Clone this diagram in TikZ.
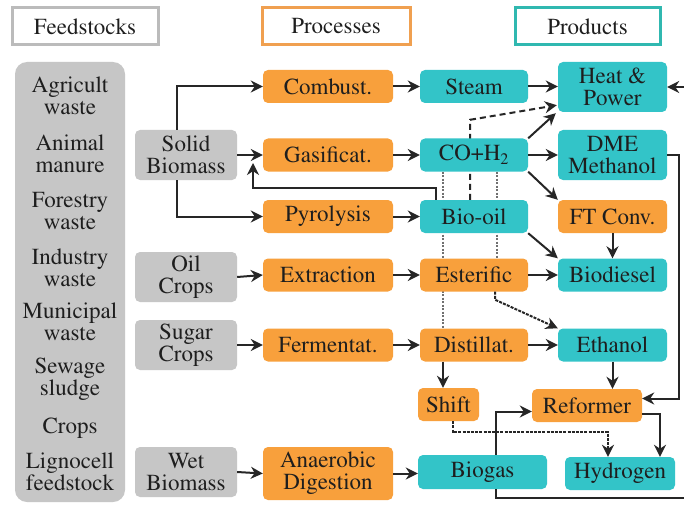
\documentclass[tikz,border=0pt]{standalone}
\usepackage[T1]{fontenc}
\renewcommand{\rmdefault}{ptm}
\usetikzlibrary{arrows.meta,backgrounds,calc}
\definecolor{orfill}{HTML}{F8A03C}
\definecolor{cyfill}{HTML}{33C4C8}
\definecolor{grfill}{HTML}{C6C6C6}
\definecolor{txt}{HTML}{1E1E1E}
\definecolor{linec}{HTML}{262626}
\definecolor{dotc}{HTML}{707070}
\definecolor{hgray}{HTML}{BBBBBB}
\definecolor{horange}{HTML}{F0A050}
\definecolor{hteal}{HTML}{30B8B0}
\begin{document}
\begin{tikzpicture}[x=1pt,y=-1pt,
  box/.style={rounded corners=5pt, inner sep=0pt, align=center, text=txt, font=\fontsize{23}{22}\selectfont},
  gbox/.style={box, fill=grfill},
  obox/.style={box, fill=orfill},
  cbox/.style={box, fill=cyfill},
  hdr/.style={draw, line width=3pt, fill=white, inner sep=0pt, font=\fontsize{23}{24}\selectfont, text=txt, minimum height=37pt},
  ltxt/.style={align=center, inner sep=0pt, text=txt, font=\fontsize{23}{22}\selectfont},
  arr/.style={draw=linec, line width=2pt, -{Stealth[length=12pt,width=12pt]}},
  dashl/.style={arr, dash pattern=on 6pt off 4pt},
  fined/.style={arr, dash pattern=on 3pt off 1.2pt},
  dotl/.style={draw=dotc, line width=1.8pt, dash pattern=on 2pt off 1.5pt}
]
\useasboundingbox (0,0) rectangle (684,505);
\begin{pgfonlayer}{background}
\fill[white] (0,0) rectangle (684,505);
\end{pgfonlayer}

% headers
\node[hdr, draw=hgray, minimum width=146pt] (hF) at (85,26.5) {Feedstocks};
\node[hdr, draw=horange, minimum width=148pt] (hP) at (336,26.5) {Processes};
\node[hdr, draw=hteal, minimum width=145pt] (hPr) at (587.5,26.5) {Products};

% left feedstock column
\node[gbox, rounded corners=12pt, minimum width=110pt, minimum height=440pt] (lb) at (70,282) {};
\node[ltxt] (f1) at (70,96) {Agricult\\waste};
\node[ltxt] (f2) at (70,154) {Animal\\manure};
\node[ltxt] (f3) at (70,211) {Forestry\\waste};
\node[ltxt] (f4) at (70,268) {Industry\\waste};
\node[ltxt] (f5) at (70,322) {Municipal\\waste};
\node[ltxt] (f6) at (70,379) {Sewage\\sludge};
\node[ltxt] (f7) at (70,428) {Crops};
\node[ltxt] (f8) at (70,472) {Lignocell\\feedstock};

% second column
\node[gbox, minimum width=102pt, minimum height=50pt] (sb) at (186,155) {Solid\\Biomass};
\node[gbox, minimum width=102pt, minimum height=50pt] (oc) at (186,277) {Oil\\Crops};
\node[gbox, minimum width=102pt, minimum height=50pt] (sc) at (186,345) {Sugar\\Crops};
\node[gbox, minimum width=102pt, minimum height=50pt] (wb) at (186,472) {Wet\\Biomass};

% processes
\node[obox, minimum width=130pt, minimum height=33pt] (comb) at (328,86.5) {Combust.};
\node[obox, minimum width=130pt, minimum height=33pt] (gas) at (328,155) {Gasificat.};
\node[obox, minimum width=130pt, minimum height=33pt] (pyr) at (328,216.5) {Pyrolysis};
\node[obox, minimum width=130pt, minimum height=33pt] (ext) at (328,275) {Extraction};
\node[obox, minimum width=130pt, minimum height=33pt] (fer) at (328,345) {Fermentat.};
\node[obox, minimum width=130pt, minimum height=53pt] (ana) at (328,473.5) {Anaerobic\\Digestion};

% third column
\node[cbox, minimum width=108pt, minimum height=33pt] (steam) at (474,86.5) {Steam};
\node[cbox, minimum width=108pt, minimum height=33pt] (co) at (474,155) {CO+H\textsubscript{2}};
\node[cbox, minimum width=108pt, minimum height=33pt] (bio) at (474,216.5) {Bio-oil};
\node[obox, minimum width=108pt, minimum height=33pt] (est) at (474,275) {Esterific};
\node[obox, minimum width=108pt, minimum height=33pt] (dis) at (474,345) {Distillat.};
\node[obox, minimum width=61pt, minimum height=33pt] (shift) at (448.5,404.5) {Shift};
\node[cbox, minimum width=129pt, minimum height=34pt] (biogas) at (482.5,472) {Biogas};

% products column
\node[cbox, minimum width=109pt, minimum height=50pt] (hp) at (612.5,87) {Heat \&\\Power};
\node[cbox, minimum width=109pt, minimum height=50pt] (dme) at (612.5,155) {DME\\Methanol};
\node[obox, minimum width=109pt, minimum height=33pt] (ft) at (612.5,216.5) {FT Conv.};
\node[cbox, minimum width=109pt, minimum height=33pt] (bd) at (612.5,275) {Biodiesel};
\node[cbox, minimum width=109pt, minimum height=33pt] (eth) at (612.5,345) {Ethanol};
\node[obox, minimum width=110pt, minimum height=33pt] (ref) at (587,405.5) {Reformer};
\node[cbox, minimum width=110pt, minimum height=33pt] (hyd) at (620,473.5) {Hydrogen};

\coordinate (fbend) at (253,163);
\coordinate (edge) at (688,498);

% background connectors (pass behind boxes)
\begin{pgfonlayer}{background}
\draw[dotl] ([xshift=-31pt]co.south) -- ([xshift=-31pt]dis.north);
\draw[dotl] ([xshift=23pt]co.south) -- ([xshift=23pt]est.north);
\draw[dashl] ([xshift=-4pt]bio.north) -- ++(0,-80) -- ([xshift=-1pt,yshift=7pt]hp.south west);
\end{pgfonlayer}

% feedstock to process
\draw[arr] (sb.east) -- (gas.west);
\draw[arr] ([xshift=-9pt]sb.north) |- (comb.west);
\draw[arr] ([xshift=-9pt]sb.south) |- (pyr.west);
\draw[arr] (oc.east) -- (ext.west);
\draw[arr] (sc.east) -- (fer.west);
\draw[arr] (wb.east) -- (ana.west);

% process to intermediate
\draw[arr] (comb) -- (steam);
\draw[arr] (gas) -- (co);
\draw[arr] (pyr) -- (bio);
\draw[arr] (ext) -- (est);
\draw[arr] (fer) -- (dis);
\draw[arr] (ana.east) -- (ana.east -| biogas.west);

% to products
\draw[arr] (steam.east) -- (steam.east -| hp.west);
\draw[arr] (co.north east) -- ([xshift=-2pt,yshift=-1pt]hp.south west);
\draw[arr] (co.east) -- (dme.west);
\draw[arr] (co.south east) -- (ft.north west);
\draw[arr] (bio.south east) -- (bd.north west);
\draw[arr] (ft) -- (bd);
\draw[arr] (est) -- (bd);
\draw[arr] (dis) -- (eth);
\draw[fined] ([xshift=21pt]est.south) -- ++(0,8) -- (eth.north west);
\draw[arr] (eth.south) -- (eth.south |- ref.north);
\draw[arr] ([xshift=-31pt]dis.south) -- ([xshift=-31pt]dis.south |- shift.north);
\draw[arr] ([xshift=-38pt]bio.north) -- ++(0,-12) -| (fbend);
\draw[fined] ([xshift=4pt]shift.south) -- ++(0,11) -| ([xshift=-12pt]hyd.north);
\draw[arr] ([yshift=-8pt]ref.east) -| ([xshift=40pt]hyd.north);
\draw[arr] (dme.east) -- ++(12,0) |- ([yshift=7pt]ref.east);
\draw[arr] ([xshift=13pt]biogas.north) |- ([yshift=-6pt]ref.west);
\draw[arr] ([xshift=13pt]biogas.south) |- (edge) |- (hp.east);
\end{tikzpicture}
\end{document}
